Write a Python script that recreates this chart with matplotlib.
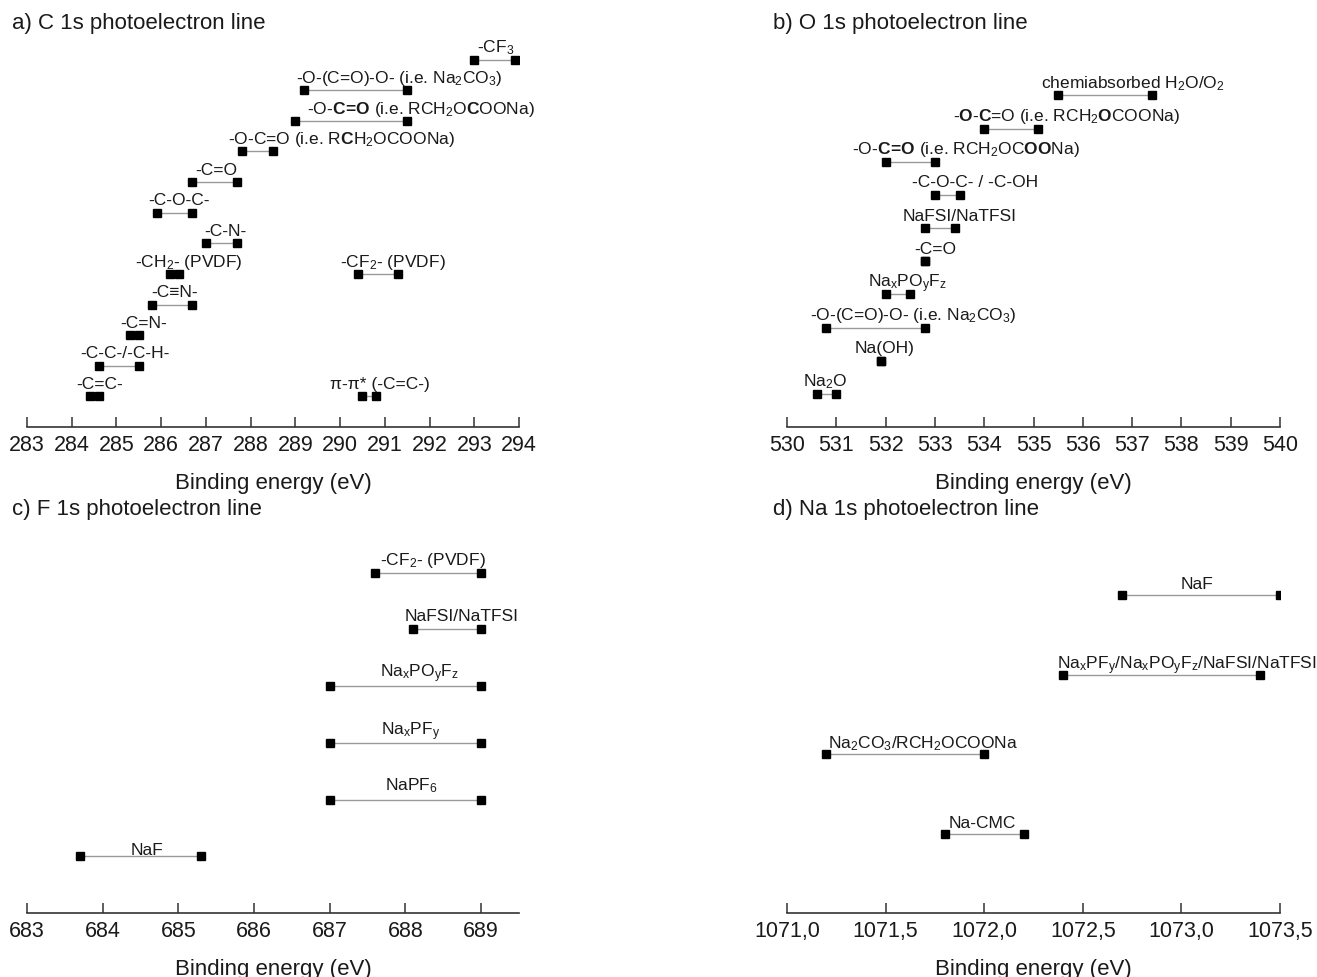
import matplotlib
matplotlib.use('Agg')
import matplotlib.pyplot as plt
from matplotlib.ticker import FuncFormatter

plt.rcParams['font.family'] = ['Liberation Sans', 'DejaVu Sans']
plt.rcParams['mathtext.fontset'] = 'custom'
plt.rcParams['mathtext.rm'] = 'Liberation Sans'
plt.rcParams['mathtext.it'] = 'Liberation Sans:italic'
plt.rcParams['mathtext.bf'] = 'Liberation Sans:bold'

BOLD_CEQO = r'$\mathbf{C}\!\mathbf{=}\!\mathbf{O}$'

# ---------------- a) C 1s ----------------
c1s_labels = [
    r'-CF$_3$',
    r'-O-(C=O)-O- (i.e. Na$_2$CO$_3$)',
    '-O-' + BOLD_CEQO + r' (i.e. RCH$_2$O$\mathbf{C}$OONa)',
    r'-O-C=O (i.e. R$\mathbf{C}$H$_2$OCOONa)',
    '-C=O',
    '-C-O-C-',
    '-C-N-',
    r'-CH$_2$- (PVDF)',
    r'-CF$_2$- (PVDF)',
    '-C\u2261N-',
    '-C=N-',
    '-C-C-/-C-H-',
    '-C=C-',
    '\u03c0-\u03c0* (-C=C-)',
]
c1s_row = [12, 11, 10, 9, 8, 7, 6, 5, 5, 4, 3, 2, 1, 1]
c1s_low = [293.0, 289.2, 289.0, 287.8, 286.7, 285.9, 287.0, 286.2, 290.4, 285.8, 285.3, 284.6, 284.4, 290.5]
c1s_high = [293.9, 291.5, 291.5, 288.5, 287.7, 286.7, 287.7, 286.4, 291.3, 286.7, 285.5, 285.5, 284.6, 290.8]
c1s_ticks = list(range(283, 295))

# ---------------- b) O 1s ----------------
o1s_labels = [
    r'chemiabsorbed H$_2$O/O$_2$',
    r'-$\mathbf{O}$-$\mathbf{C}$=O (i.e. RCH$_2$$\mathbf{O}$COONa)',
    '-O-' + BOLD_CEQO + r' (i.e. RCH$_2$OC$\mathbf{OO}$Na)',
    '-C-O-C- / -C-OH',
    'NaFSI/NaTFSI',
    '-C=O',
    r'Na$_\mathrm{x}$PO$_\mathrm{y}$F$_\mathrm{z}$',
    r'-O-(C=O)-O- (i.e. Na$_2$CO$_3$)',
    'Na(OH)',
    r'Na$_2$O',
]
o1s_row = [10, 9, 8, 7, 6, 5, 4, 3, 2, 1]
o1s_low = [535.5, 534.0, 532.0, 533.0, 532.8, 532.8, 532.0, 530.8, 531.9, 530.6]
o1s_high = [537.4, 535.1, 533.0, 533.5, 533.4, 532.8, 532.5, 532.8, 531.9, 531.0]
o1s_ticks = list(range(530, 541))

# ---------------- c) F 1s ----------------
f1s_labels = [
    r'-CF$_2$- (PVDF)',
    'NaFSI/NaTFSI',
    r'Na$_\mathrm{x}$PO$_\mathrm{y}$F$_\mathrm{z}$',
    r'Na$_\mathrm{x}$PF$_\mathrm{y}$',
    r'NaPF$_6$',
    'NaF',
]
f1s_row = [6, 5, 4, 3, 2, 1]
f1s_low = [687.6, 688.1, 687.0, 687.0, 687.0, 683.7]
f1s_high = [689.0, 689.0, 689.0, 689.0, 689.0, 685.3]
f1s_ticks = list(range(683, 690))

# ---------------- d) Na 1s ----------------
na1s_labels = [
    'NaF',
    r'Na$_\mathrm{x}$PF$_\mathrm{y}$/Na$_\mathrm{x}$PO$_\mathrm{y}$F$_\mathrm{z}$/NaFSI/NaTFSI',
    r'Na$_2$CO$_3$/RCH$_2$OCOONa',
    'Na-CMC',
]
na1s_row = [4, 3, 2, 1]
na1s_low = [1072.7, 1072.4, 1071.2, 1071.8]
na1s_high = [1073.5, 1073.4, 1072.0, 1072.2]
na1s_ticks = [1071.0, 1071.5, 1072.0, 1072.5, 1073.0, 1073.5]

# label anchor positions and vertical offsets (layout only)
c1s_text_x = [293.48, 291.33, 291.81, 290.03, 287.23, 286.40, 287.43, 286.63, 291.19, 286.29, 285.60, 285.18, 284.62, 290.88]
c1s_text_dy = [6.0] * 14
o1s_text_x = [537.02, 535.67, 533.64, 533.81, 533.51, 533.01, 532.44, 532.55, 531.97, 530.77]
o1s_text_dy = [6.0] * 10
f1s_text_x = [688.36, 688.74, 688.18, 688.07, 688.08, 684.58]
f1s_text_dy = [6.5, 6.5, 7.0, 6.5, 7.5, 1.5]
na1s_text_x = [1073.08, 1073.03, 1071.69, 1071.99]
na1s_text_dy = [5.0] * 4

W, H = 1317, 978
fig = plt.figure(figsize=(W / 100, H / 100), dpi=100)


def px_axes(x0, x1, ytop, ybot):
    return fig.add_axes([x0 / W, 1 - ybot / H, (x1 - x0) / W, (ybot - ytop) / H])


panels = [
    dict(rect=(27, 519, 30, 428), xlim=(283, 294), ylim=(0, 13), ticks=c1s_ticks,
         labels=c1s_labels, row=c1s_row, low=c1s_low, high=c1s_high, tx=c1s_text_x,
         dy=c1s_text_dy, title='a) C 1s photoelectron line', tpos=(12, 24), comma=False),
    dict(rect=(787, 1280, 30, 428), xlim=(530, 540), ylim=(0, 12), ticks=o1s_ticks,
         labels=o1s_labels, row=o1s_row, low=o1s_low, high=o1s_high, tx=o1s_text_x,
         dy=o1s_text_dy, title='b) O 1s photoelectron line', tpos=(773, 24), comma=False),
    dict(rect=(27, 519, 517, 914), xlim=(683, 689.5), ylim=(0, 7), ticks=f1s_ticks,
         labels=f1s_labels, row=f1s_row, low=f1s_low, high=f1s_high, tx=f1s_text_x,
         dy=f1s_text_dy, title='c) F 1s photoelectron line', tpos=(12, 510), comma=False),
    dict(rect=(787, 1280, 517, 914), xlim=(1071.0, 1073.5), ylim=(0, 5), ticks=na1s_ticks,
         labels=na1s_labels, row=na1s_row, low=na1s_low, high=na1s_high, tx=na1s_text_x,
         dy=na1s_text_dy, title='d) Na 1s photoelectron line', tpos=(773, 510), comma=True),
]

for p in panels:
    x0, x1, yt, yb = p['rect']
    ax = px_axes(x0, x1, yt, yb)
    for lab, r, lo, hi, tx, dy in zip(p['labels'], p['row'], p['low'], p['high'],
                                      p['tx'], p['dy']):
        ax.plot([lo, hi], [r, r], color='#9a9a9a', lw=1.0, zorder=1)
        ax.plot([lo, hi], [r, r], ls='none', marker='s', ms=5.6, color='black',
                mec='black', zorder=2)
        ax.annotate(lab, xy=(tx, r), xytext=(0, dy), textcoords='offset points',
                    ha='center', va='baseline', fontsize=12.5, color='#1a1a1a',
                    annotation_clip=False)
    ax.set_xlim(*p['xlim'])
    ax.set_ylim(*p['ylim'])
    ax.set_xticks(p['ticks'])
    if p['comma']:
        ax.xaxis.set_major_formatter(FuncFormatter(lambda v, pos: f'{v:.1f}'.replace('.', ',')))
    for s in ['top', 'left', 'right']:
        ax.spines[s].set_visible(False)
    ax.spines['bottom'].set_color('#333333')
    ax.spines['bottom'].set_linewidth(1.2)
    ax.set_yticks([])
    ax.tick_params(axis='x', direction='in', length=7, width=1.1, color='#333333',
                   labelsize=15.5, pad=5, labelcolor='#1a1a1a')
    ax.set_xlabel('Binding energy (eV)', fontsize=16, color='#1a1a1a', va='center')
    ax.xaxis.set_label_coords(0.5, -56 / (yb - yt))
    fig.text(p['tpos'][0] / W, 1 - p['tpos'][1] / H, p['title'], fontsize=16,
             ha='left', va='center', color='#1a1a1a')

fig.savefig('out.png', dpi=100)
